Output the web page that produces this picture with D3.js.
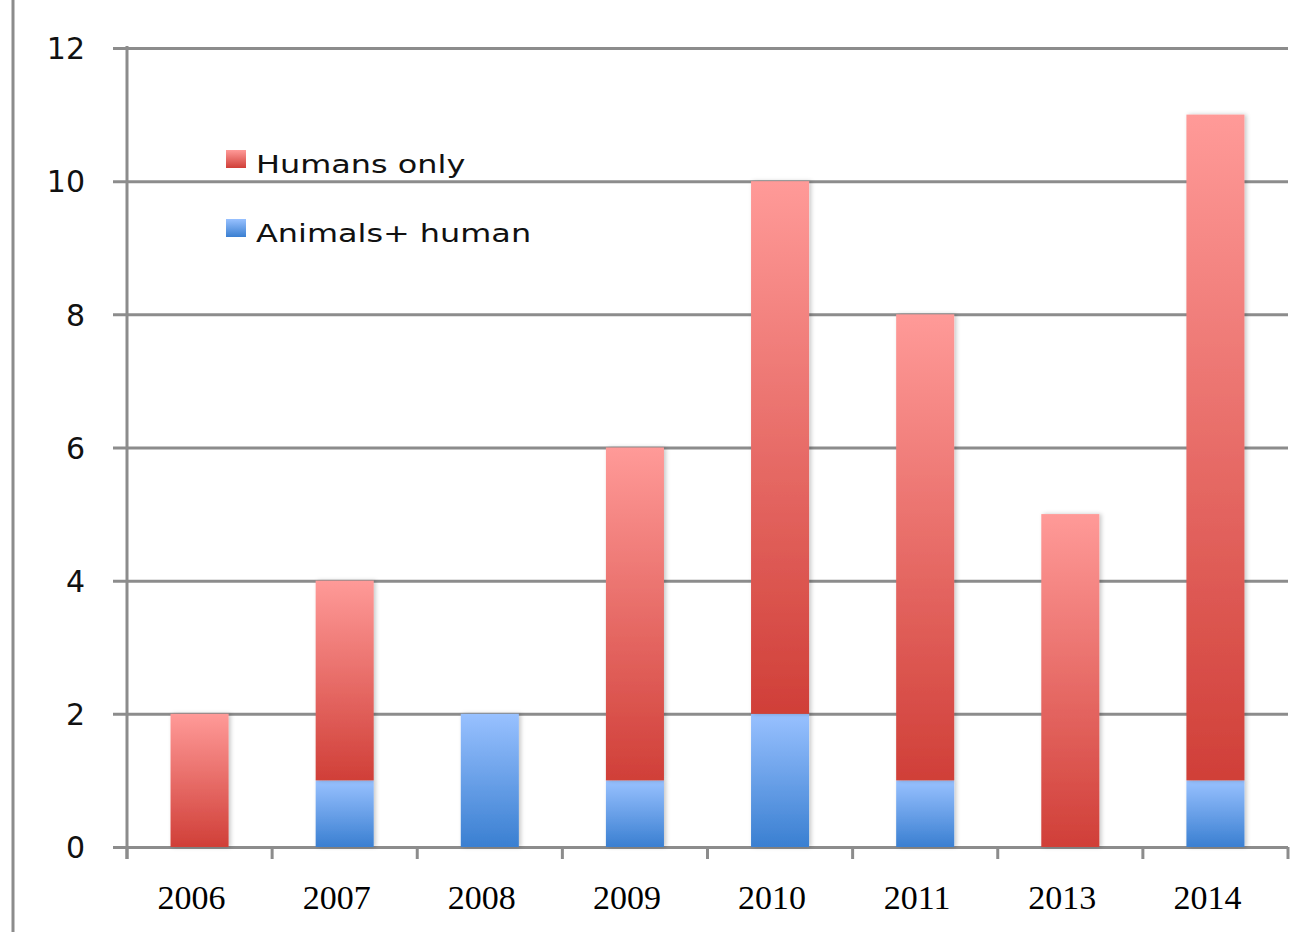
<!DOCTYPE html>
<html>
<head>
<meta charset="utf-8">
<script src="https://cdn.jsdelivr.net/npm/d3@7"></script>
<style>
  html, body { margin: 0; padding: 0; background: #fff; }
</style>
</head>
<body>
<script>
// chart data
var years = ['2006', '2007', '2008', '2009', '2010', '2011', '2013', '2014'];
var humansOnly = [2, 3, 0, 5, 8, 7, 5, 10];
var animalsHuman = [0, 1, 2, 1, 2, 1, 0, 1];
var yTicks = [0, 2, 4, 6, 8, 10, 12];
var seriesNames = ['Humans only', 'Animals+ human'];

var W = 1291, H = 932;
var plotLeft = 127, plotRight = 1288, plotTop = 48, plotBottom = 847;
var grey = '#8c8c8c';

var svg = d3.select('body').append('svg')
  .attr('width', W).attr('height', H);

// gradients for bar segments
var defs = svg.append('defs');
function grad(id, c1, c2) {
  var g = defs.append('linearGradient').attr('id', id)
    .attr('x1', 0).attr('y1', 0).attr('x2', 0).attr('y2', 1);
  g.append('stop').attr('offset', '0%').attr('stop-color', c1);
  g.append('stop').attr('offset', '100%').attr('stop-color', c2);
}
grad('redGrad', '#ff9a98', '#d03f38');
grad('blueGrad', '#98c1ff', '#3a7fd1');
var f = defs.append('filter').attr('id', 'shadow')
  .attr('x', '-20%').attr('y', '-5%').attr('width', '140%').attr('height', '110%');
f.append('feDropShadow').attr('dx', 2).attr('dy', 0).attr('stdDeviation', 2)
  .attr('flood-color', '#000').attr('flood-opacity', 0.22);

// left edge line
svg.append('line')
  .attr('x1', 13).attr('x2', 13).attr('y1', 0).attr('y2', H)
  .attr('stroke', grey).attr('stroke-width', 3);

var x = d3.scaleBand().domain(years).range([plotLeft, plotRight]);
var y = d3.scaleLinear().domain([0, 12]).range([plotBottom, plotTop]);

// gridlines + y labels
var yAxis = d3.axisLeft(y).tickValues(yTicks)
  .tickSize(plotRight - plotLeft + 14).tickPadding(28).tickFormat(d3.format('d'));
var gy = svg.append('g')
  .attr('transform', 'translate(' + plotRight + ',0)')
  .call(yAxis);
gy.select('.domain').remove();
gy.selectAll('.tick line').attr('stroke', grey).attr('stroke-width', 3);
gy.selectAll('.tick text')
  .attr('fill', '#111')
  .style('font-family', 'DejaVu Sans, Verdana, sans-serif')
  .style('font-size', '30px')
  .attr('dy', '0.36em');

// y axis line
svg.append('line')
  .attr('x1', plotLeft).attr('x2', plotLeft).attr('y1', plotTop - 2).attr('y2', plotBottom + 12)
  .attr('stroke', grey).attr('stroke-width', 3);

// x ticks at band boundaries
var bounds = years.map(function (d) { return x(d); }).concat([plotRight]);
svg.selectAll('.xtick').data(bounds).enter().append('line')
  .attr('x1', function (d) { return d; }).attr('x2', function (d) { return d; })
  .attr('y1', plotBottom).attr('y2', plotBottom + 12)
  .attr('stroke', grey).attr('stroke-width', 3);

// stacked bars
var rows = years.map(function (yr, i) {
  return { year: yr, animals: animalsHuman[i], humans: humansOnly[i] };
});
var stack = d3.stack().keys(['animals', 'humans'])(rows);
var bw = x.bandwidth() * 0.4;
var fills = { animals: 'url(#blueGrad)', humans: 'url(#redGrad)' };

svg.selectAll('.series').data(stack).enter().append('g')
  .attr('fill', function (s) { return fills[s.key]; })
  .selectAll('rect')
  .data(function (s) { return s.filter(function (d) { return d[1] > d[0]; }); })
  .enter().append('rect')
  .attr('filter', 'url(#shadow)')
  .attr('x', function (d) { return x(d.data.year) + (x.bandwidth() - bw) / 2; })
  .attr('width', bw)
  .attr('y', function (d) { return y(d[1]); })
  .attr('height', function (d) { return y(d[0]) - y(d[1]); });

// x labels (sit a little left of the band centre in the original)
svg.selectAll('.xlab').data(years).enter().append('text')
  .attr('x', function (d) { return x(d) + x.bandwidth() / 2 - 8; })
  .attr('y', 909)
  .attr('text-anchor', 'middle')
  .style('font-family', 'Liberation Serif, serif')
  .style('font-size', '34px')
  .attr('fill', '#000')
  .text(function (d) { return d; });

// legend
var legend = svg.append('g').attr('transform', 'translate(226,150)');
var lg = legend.selectAll('g').data(seriesNames).enter().append('g')
  .attr('transform', function (d, i) { return 'translate(0,' + i * 69 + ')'; });
lg.append('rect')
  .attr('width', 20).attr('height', 18)
  .attr('fill', function (d, i) { return i === 0 ? 'url(#redGrad)' : 'url(#blueGrad)'; });
lg.append('g')
  .attr('transform', 'translate(30,23) scale(1.33,1)')
  .append('text')
  .style('font-family', 'DejaVu Sans, Verdana, sans-serif')
  .style('font-size', '24px')
  .attr('fill', '#111')
  .text(function (d) { return d; });
</script>
</body>
</html>
